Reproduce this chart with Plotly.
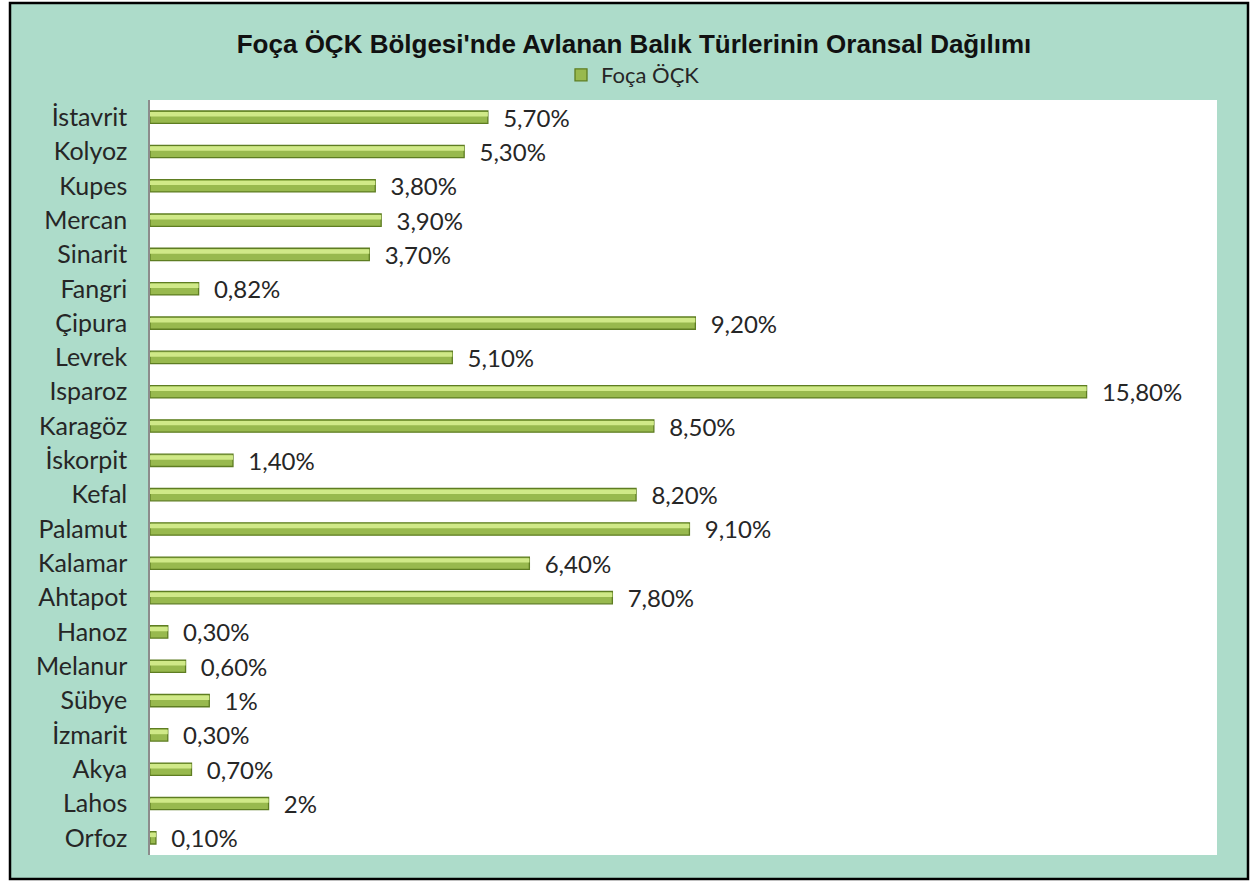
import plotly.graph_objects as go

categories = ["İstavrit", "Kolyoz", "Kupes", "Mercan", "Sinarit", "Fangri", "Çipura", "Levrek",
              "Isparoz", "Karagöz", "İskorpit", "Kefal", "Palamut", "Kalamar", "Ahtapot", "Hanoz",
              "Melanur", "Sübye", "İzmarit", "Akya", "Lahos", "Orfoz"]
values = [5.7, 5.3, 3.8, 3.9, 3.7, 0.82, 9.2, 5.1, 15.8, 8.5, 1.4, 8.2, 9.1, 6.4, 7.8, 0.3,
          0.6, 1, 0.3, 0.7, 2, 0.1]
series_name = "Foça ÖÇK"
title_text = "Foça ÖÇK Bölgesi'nde Avlanan Balık Türlerinin Oransal Dağılımı"


def fmt(v):
    if float(v).is_integer():
        return f"{int(v)}%"
    return f"{v:.2f}".replace(".", ",") + "%"


labels = ["\u00a0\u00a0" + fmt(v) for v in values]

W, H = 1258, 883
L, R, T, B = 150, 41, 100, 28
pw, ph = W - L - R, H - T - B


def px_x(p):
    return (p - L) / pw


def px_y(p):
    return 1 - (p - T) / ph


fig = go.Figure()
# main bar (darker body)
fig.add_trace(go.Bar(
    y=categories, x=values, orientation="h", name=series_name,
    marker=dict(color="#98B94E", line=dict(color="#5E7D22", width=1.3)),
    width=0.36,
    text=labels, textposition="outside", cliponaxis=False, constraintext="none",
    textfont=dict(family="Lato", size=24, color="#262626"),
    showlegend=True,
))
# light highlight on upper half of each bar
fig.add_trace(go.Bar(
    y=categories, x=values, orientation="h", name=series_name,
    marker=dict(color="#D0E988", line=dict(width=0)),
    width=0.13, offset=-0.15,
    showlegend=False, hoverinfo="skip",
))

fig.update_layout(
    width=W, height=H,
    margin=dict(l=L, r=R, t=T, b=B),
    barmode="overlay",
    paper_bgcolor="white", plot_bgcolor="white",
    title=dict(text=f"<b>{title_text}</b>", x=634 / W, xref="container", xanchor="center",
               y=1 - 44 / H, yanchor="middle",
               font=dict(family="Liberation Sans", size=26, color="#111111")),
    legend=dict(orientation="h", x=px_x(633), xanchor="center", y=px_y(75), yanchor="middle",
                font=dict(family="Lato", size=22, color="#262626"), bgcolor="rgba(0,0,0,0)",
                itemwidth=30),
    xaxis=dict(range=[0, 18.0], visible=False, showgrid=False, zeroline=False),
    yaxis=dict(autorange="reversed", showline=True, linecolor="#8C8C8C", linewidth=1.5,
               ticks="", showgrid=False, ticklabelstandoff=16,
               tickfont=dict(family="Lato", size=25, color="#262626")),
    shapes=[
        dict(type="rect", xref="paper", yref="paper",
             x0=px_x(10), x1=px_x(1248), y0=px_y(879), y1=px_y(3),
             fillcolor="#ADDCCA", line=dict(color="black", width=2.5), layer="below"),
        dict(type="rect", xref="paper", yref="paper", x0=0, x1=1, y0=0, y1=1,
             fillcolor="white", line=dict(width=0), layer="below"),
    ],
)

fig.write_html("out.html", config={"displayModeBar": False},
               post_script="document.body.style.margin='0px';")
